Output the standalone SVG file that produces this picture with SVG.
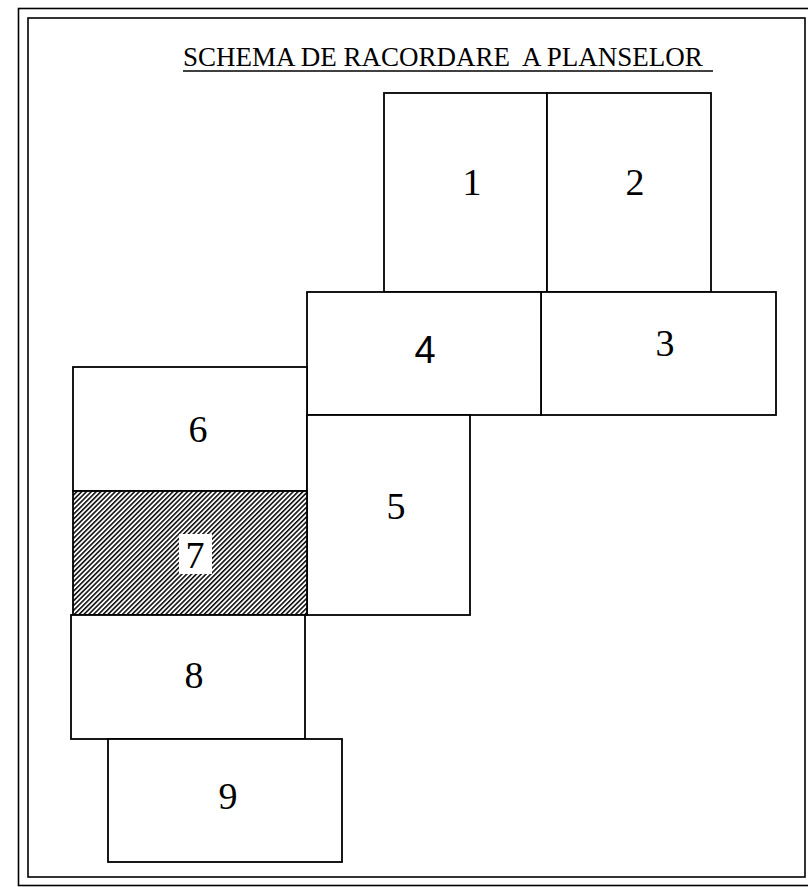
<svg xmlns="http://www.w3.org/2000/svg" width="808" height="887" viewBox="0 0 808 887">
<style>
.frame{fill:none;stroke:#000;stroke-width:1.6}
.box{fill:#fff;stroke:#000;stroke-width:1.8}
.lbl{font-size:38px;fill:#000;text-anchor:middle}
.title{font-size:27px;fill:#000}
</style>
<defs>
<pattern id="hatch" patternUnits="userSpaceOnUse" width="3.4" height="3.4" patternTransform="rotate(45)">
<rect width="3.4" height="3.4" fill="#fff"/>
<line x1="0.8" y1="0" x2="0.8" y2="3.4" stroke="#000" stroke-width="1.5"/>
</pattern>
</defs>
<rect width="808" height="887" fill="#fff"/>
<g id="frame">
<rect class="frame" x="18.5" y="8.5" width="800" height="877"/>
<rect class="frame" x="28" y="18" width="777" height="859"/>
</g>
<g id="title">
<text class="title" font-family="'Liberation Serif', 'Times New Roman', serif" x="183" y="66" xml:space="preserve">SCHEMA DE RACORDARE  A PLANSELOR </text>
<line x1="183" y1="71" x2="713" y2="71" stroke="#000" stroke-width="1.5"/>
</g>
<g id="connectors"></g>
<g font-family="'Liberation Serif', 'Times New Roman', serif">
<g id="n1"><rect class="box" x="384" y="93" width="163" height="199"/><text class="lbl" x="472" y="195">1</text></g>
<g id="n2"><rect class="box" x="547" y="93" width="164" height="199"/><text class="lbl" x="635" y="195">2</text></g>
<g id="n3"><rect class="box" x="541" y="292" width="235" height="123"/><text class="lbl" x="665" y="356">3</text></g>
<g id="n4"><rect class="box" x="307" y="292" width="234" height="123"/><text class="lbl" font-family="'Liberation Sans', Arial, sans-serif" x="425" y="363">4</text></g>
<g id="n6"><rect class="box" x="73" y="367" width="234" height="124"/><text class="lbl" x="198" y="442">6</text></g>
<g id="n5"><rect class="box" x="307" y="415" width="163" height="200"/><text class="lbl" x="396" y="519">5</text></g>
<g id="n7"><rect x="73" y="491" width="234" height="124" fill="url(#hatch)" stroke="#000" stroke-width="1.8"/><rect x="179" y="534" width="33" height="40" fill="#fff"/><text class="lbl" x="195" y="568">7</text></g>
<g id="n8"><rect class="box" x="71" y="615" width="234" height="124"/><text class="lbl" x="194" y="688">8</text></g>
<g id="n9"><rect class="box" x="108" y="739" width="234" height="123"/><text class="lbl" x="228" y="809">9</text></g>
</g>
</svg>
